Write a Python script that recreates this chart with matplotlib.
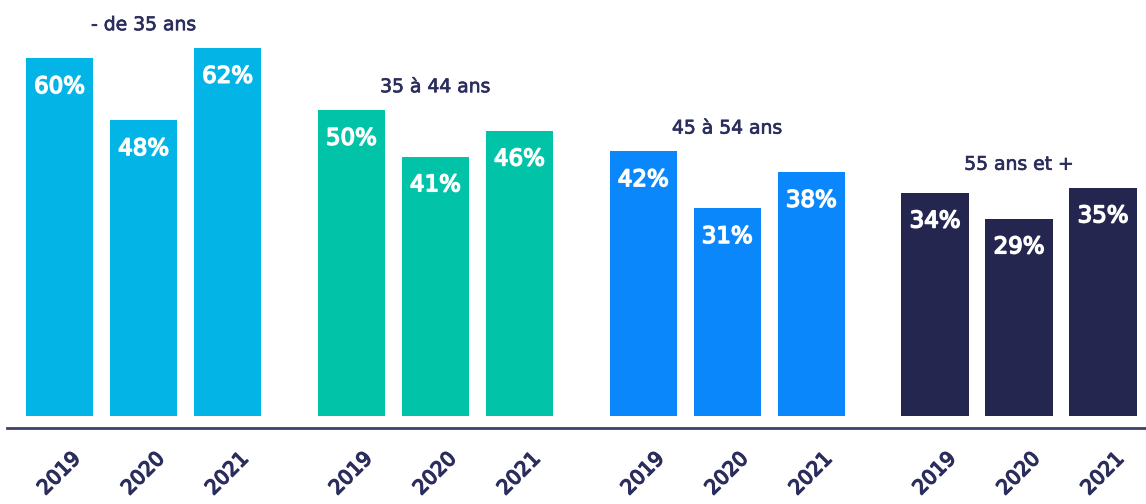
import matplotlib
matplotlib.use("Agg")
import matplotlib.pyplot as plt
import matplotlib.patheffects as pe
import numpy as np

groups = ["- de 35 ans", "35 à 44 ans", "45 à 54 ans", "55 ans et +"]
years = ["2019", "2020", "2021"]
values = [
    [60, 48, 62],
    [50, 41, 46],
    [42, 31, 38],
    [34, 29, 35],
]
colors = ["#02B5E6", "#00C3A8", "#0A87FB", "#24264F"]
text_dark = "#2B2D5C"

plt.rcParams['font.family'] = ['DejaVu Sans']

fig = plt.figure(figsize=(11.46, 5.04), dpi=100)
ax = fig.add_axes([7/1146, (504-428)/504, 1139/1146, 428/504])

base = -9.2
group_step = 3.473
xs_all, labels_all = [], []
for g, (name, vals, col) in enumerate(zip(groups, values, colors)):
    xs = g*group_step + np.arange(len(vals))
    v = np.array(vals, dtype=float)
    ax.bar(xs, v - base, bottom=base, width=0.8, color=col, edgecolor='none')
    for x, val in zip(xs, vals):
        ax.annotate(f"{val}%", (x, val), xytext=(0, -12), textcoords='offset points',
                    ha='center', va='top', color='white', fontsize=16.5,
                    path_effects=[pe.withStroke(linewidth=1.1, foreground='white')])
    ax.annotate(name, (xs[1], max(vals)), xytext=(0, 10), textcoords='offset points',
                ha='center', va='bottom', color=text_dark, fontsize=13.5,
                path_effects=[pe.withStroke(linewidth=0.5, foreground=text_dark)])
    xs_all.extend(xs)
    labels_all.extend(years)

ax.set_xlim(-0.625, 12.93)
ax.set_ylim(-11.5, 71.3)
ax.set_xticks(xs_all)
ax.set_xticklabels(labels_all, rotation=45, ha='center', va='top', color=text_dark,
                   fontsize=14.5,
                   path_effects=[pe.withStroke(linewidth=1.0, foreground=text_dark)])
ax.tick_params(axis='x', length=0, pad=15)
ax.set_yticks([])
for s in ['top', 'right', 'left']:
    ax.spines[s].set_visible(False)
ax.spines['bottom'].set_color('#3D3F6E')
ax.spines['bottom'].set_linewidth(2)

fig.savefig("out.png", dpi=100)
